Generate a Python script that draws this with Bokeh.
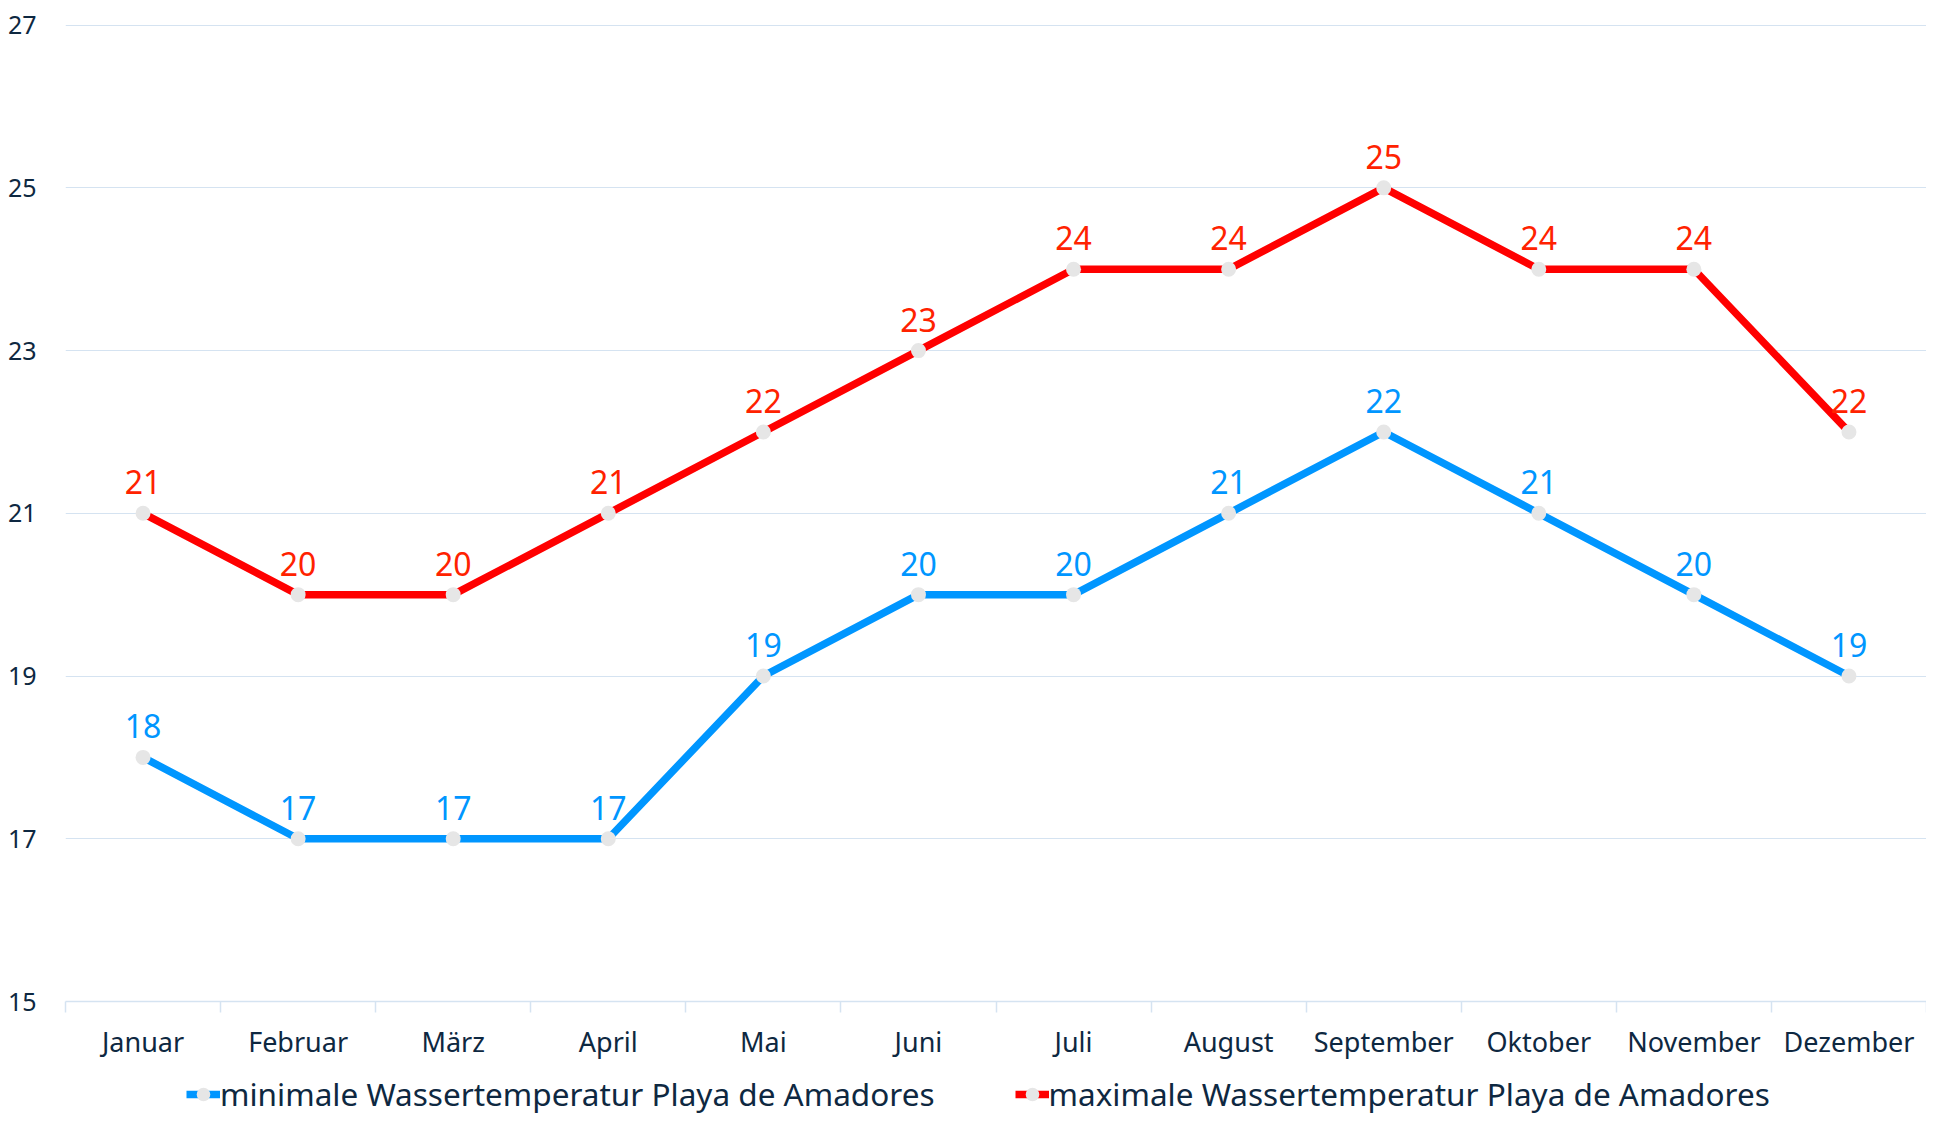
from bokeh.plotting import figure
from bokeh.layouts import column
from bokeh.models import Range1d, FixedTicker, Legend, LegendItem, ColumnDataSource
from bokeh.core.properties import value
from bokeh.embed import file_html
from bokeh.resources import INLINE

months = ["Januar", "Februar", "März", "April", "Mai", "Juni", "Juli",
          "August", "September", "Oktober", "November", "Dezember"]
min_temp = [18, 17, 17, 17, 19, 20, 20, 21, 22, 21, 20, 19]
max_temp = [21, 20, 20, 21, 22, 23, 24, 24, 25, 24, 24, 22]
y_ticks = [15, 17, 19, 21, 23, 25, 27]
name_min = "minimale Wassertemperatur Playa de Amadores"
name_max = "maximale Wassertemperatur Playa de Amadores"

FONT = "Noto Sans"
TXT = "#0e2841"
GRID = "#d5e3f1"
BLUE = "#0096ff"
RED = "#ff0000"
RED_LBL = "#ff2200"
MARK = "#e6e6e6"

xs = [i + 0.5 for i in range(len(months))]

p = figure(width=1926, height=1068, output_backend="svg", toolbar_location=None,
           x_range=Range1d(0, len(months)), y_range=Range1d(15, 27.02),
           min_border_left=65, min_border_right=0, min_border_top=23, min_border_bottom=67)
p.outline_line_color = None
p.background_fill_color = "white"
p.border_fill_color = "white"

# y axis
p.yaxis.ticker = FixedTicker(ticks=y_ticks)
p.yaxis.axis_line_color = None
p.yaxis.major_tick_line_color = None
p.yaxis.minor_tick_line_color = None
p.yaxis.major_tick_out = 0
p.yaxis.major_tick_in = 0
p.yaxis.major_label_standoff = 29
p.yaxis.major_label_text_font = FONT
p.yaxis.major_label_text_font_size = "25px"
p.yaxis.major_label_text_color = TXT

# x axis
p.xaxis.ticker = FixedTicker(ticks=xs, minor_ticks=list(range(len(months) + 1)))
p.xaxis.major_label_overrides = {x: m for x, m in zip(xs, months)}
p.xaxis.axis_line_color = GRID
p.xaxis.axis_line_width = 1.5
p.xaxis.major_tick_line_color = None
p.xaxis.major_tick_out = 0
p.xaxis.major_tick_in = 0
p.xaxis.minor_tick_line_color = GRID
p.xaxis.minor_tick_line_width = 1.5
p.xaxis.minor_tick_out = 11
p.xaxis.minor_tick_in = 0
p.xaxis.major_label_standoff = 10
p.xaxis.major_label_text_font = FONT
p.xaxis.major_label_text_font_size = "27px"
p.xaxis.major_label_text_color = TXT

p.xgrid.grid_line_color = None
p.ygrid.ticker = FixedTicker(ticks=y_ticks)
p.ygrid.grid_line_color = GRID
p.ygrid.grid_line_width = 1.2

src = ColumnDataSource(dict(x=xs, lo=min_temp, hi=max_temp,
                            lo_t=[str(v) for v in min_temp],
                            hi_t=[str(v) for v in max_temp]))

p.line("x", "lo", source=src, line_color=BLUE, line_width=7.5)
p.scatter("x", "lo", source=src, size=15, fill_color=MARK, line_color=None)
p.line("x", "hi", source=src, line_color=RED, line_width=7.5)
p.scatter("x", "hi", source=src, size=15, fill_color=MARK, line_color=None)

p.text("x", "lo", text="lo_t", source=src, text_font=value(FONT), text_font_size="32px",
       text_color=BLUE, text_align="center", text_baseline="alphabetic", y_offset=-31)
p.text("x", "hi", text="hi_t", source=src, text_font=value(FONT), text_font_size="32px",
       text_color=RED_LBL, text_align="center", text_baseline="alphabetic", y_offset=-31)

# legend strip (series drawn outside its visible range, only the legend shows)
q = figure(width=1926, height=47, output_backend="svg", toolbar_location=None,
           x_range=Range1d(0, len(months)), y_range=Range1d(0, 1),
           x_axis_type=None, y_axis_type=None,
           min_border_left=0, min_border_right=0, min_border_top=0, min_border_bottom=0)
q.outline_line_color = None
q.xgrid.grid_line_color = None
q.ygrid.grid_line_color = None
q.border_fill_color = "white"
q.background_fill_color = "white"

lq_min = q.line("x", "lo", source=src, line_color=BLUE, line_width=7.5)
sq_min = q.scatter("x", "lo", source=src, size=15, fill_color=MARK, line_color=None)
lq_max = q.line("x", "hi", source=src, line_color=RED, line_width=7.5)
sq_max = q.scatter("x", "hi", source=src, size=15, fill_color=MARK, line_color=None)

legend = Legend(items=[LegendItem(label=name_min, renderers=[lq_min, sq_min]),
                       LegendItem(label=name_max, renderers=[lq_max, sq_max])],
                orientation="horizontal", location=(121, 0),
                label_text_font=FONT, label_text_font_size="31.5px", label_text_color=TXT,
                glyph_width=34, glyph_height=40, label_standoff=0, spacing=80,
                padding=0, margin=0, border_line_color=None,
                background_fill_alpha=0)
q.add_layout(legend, "center")

layout = column(p, q, spacing=0)
open("out.html", "w").write(file_html(layout, INLINE))
